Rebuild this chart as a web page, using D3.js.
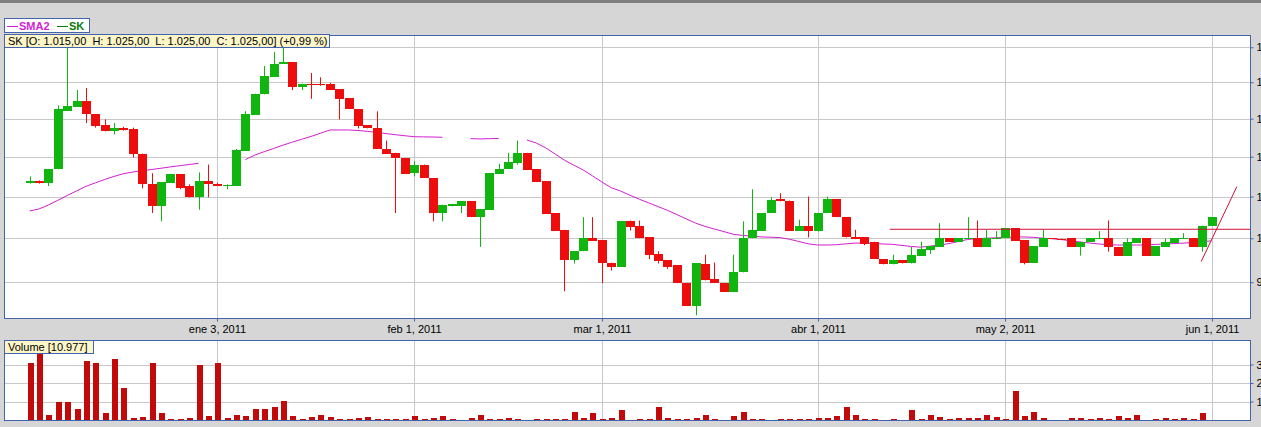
<!DOCTYPE html>
<html><head><meta charset="utf-8">
<script src="https://cdn.jsdelivr.net/npm/d3@7"></script>
<style>
html,body{margin:0;padding:0;background:#d6d6d6;overflow:hidden}
svg{display:block;font-family:"Liberation Sans",Arial,sans-serif}
</style></head><body>
<svg id="c" width="1261" height="427"></svg>
<script>
// ---- data ----
const openP  = [1067,1069,1067,1084,1161,1166,1174,1156,1141,1133,1138,1136,1104,1066,1038,1067,1078,1063,1049,1069,
  1066,1063,1063,1108,1155,1183,1208,1226,1229,1193,1198,1198,1197,1190,1178,1163,1141,1138,1110,1105,
  1098,1079,1090,1073,1030,1039,1039,1044,1025,1034,1078,1084,1092,1105,1084,1069,1030,1010,975,985,
  1000,998,972,967,1020,1014,1001,982,975,969,949,924,970,954,949,939,961,1000,1009,1030,
  1047,1045,1009,1015,1008,1030,1047,1025,1001,1001,996,976,970,975,971,980,986,990,1000,996,
  1000,1000,990,999.8,1000,1012,998,972,990,1000,999.5,1000,990,996,999.8,1000,990,980,995,1000,
  980,990,995,999.6,1000,990,1015];
const highP  = [1075,1070,1084,1168,1253,1189,1192,1156,1149,1144,1139,1138,1104,1079,1068,1078,1078,1065,1080,1090,
  1067,1065,1110,1160,1184,1223,1243,1249,1229,1198,1213,1207,1199,1190,1178,1163,1141,1160,1121,1105,
  1098,1094,1090,1073,1040,1041,1044,1044,1035,1079,1091,1105,1121,1105,1084,1069,1030,1010,985,1025,
  1025,998,972,1020,1021,1021,1001,985,975,969,949,971,981,972,949,981,1020,1059,1030,1049,
  1054,1045,1022,1050,1030,1050,1047,1025,1010,1001,996,976,981,975,990,996,991,1018,1000,1000,
  1025,1021,1010,1008.5,1012,1012,998,991,1010.5,1000,999.5,1000,996,1000,1008.5,1021,990,1000,1000,1000,
  991,1000,1000,1006,1000,1015,1025];
const lowP   = [1066,1066,1063,1084,1161,1166,1144,1138,1133,1129,1134,1099,1060,1030,1020,1067,1059,1049,1034,1049,
  1063,1059,1063,1108,1155,1183,1208,1226,1189,1189,1177,1195,1189,1149,1163,1137,1137,1110,1104,1030,
  1078,1075,1073,1020,1020,1038,1030,1025,990,1034,1078,1084,1090,1083,1068,1029,1009,940,971,985,
  997,949,963,967,1009,1000,976,971,965,949,924,914,952,949,939,939,961,1000,1009,1030,
  1044,1009,1009,1001,1008,1030,1025,1001,999,992,976,970,970,971,971,980,982,990,996,996,
  999.5,990,990,999.8,1000,997,970,972,990,999.6,999,990,980,996,999.8,984.5,980,980,995,980,
  980,990,995,999.6,990,984.5,1015];
const closeP = [1069,1067,1084,1163,1167,1174,1156,1140,1133,1138,1135,1103,1066,1038,1068,1078,1061,1049,1069,1065,
  1063,1064,1109,1156,1184,1209,1226,1229,1193,1198,1197,1196,1189,1177,1163,1140,1137,1110,1104,1098,
  1078,1090,1073,1030,1040,1041,1044,1025,1035,1079,1084,1093,1105,1083,1068,1029,1009,975,985,1000,
  997,972,967,1020,1013,1000,981,974,967,949,924,971,952,949,939,961,1000,1010,1030,1046,
  1044,1009,1015,1008,1030,1047,1025,1001,999.5,993,976,970,975,971,981,988,991,1000,996,1000,
  1000.4,990,1000,1000.4,1012,997,972,991,1000,999.6,999,990,996,1000,1000.4,989.5,980,996,1000,980,
  991,996,1000,1000.4,990,1015,1025];
const sma2 = [1032.4,1034.9,1039.7,1045.4,1051.3,1056.9,1062.6,1066.9,1071.2,1075.0,1078.5,1080.5,1082.1,1083.7,1085.3,1087.0,1088.5,1090.0,1091.6,null,
  null,null,null,1096.3,1102.1,1106.5,1110.6,1114.9,1118.9,1122.6,1126.4,1130.6,1134.9,1134.9,1134.9,1134.2,1133.1,1131.7,1130.1,1128.7,
  1127.3,1126.0,1125.8,1125.6,1125.3,null,null,1123.5,1123.1,1123.4,1123.8,null,null,1121.7,1117.8,1111.5,1103.7,1095.7,1089.2,1083.2,
  1075.7,1068.0,1060.9,1056.8,1051.6,1046.7,1042.2,1037.7,1033.2,1028.1,1022.9,1017.9,1014.0,1010.9,1007.9,1004.7,1003.4,1002.5,1001.6,1001.3,
  1000.8,998.9,996.3,993.6,992.2,992.2,992.5,993.5,994.4,994.5,993.8,993.4,993.0,991.7,990.5,989.7,990.9,992.2,993.8,996.3,
  998.6,999.6,1000.1,1000.6,1001.1,1001.5,1001.6,1001.1,1000.2,999.5,998.5,997.0,995.7,994.5,993.4,992.4,992.2,992.2,992.2,992.2,
  992.8,993.4,993.8,994.4,995.1,996.2,996.9];
const volume = [3065,3605,270,973,973,595,3189,3065,378,3297,1730,108,162,3065,378,54,54,108,2973,216,
  3065,108,270,216,595,595,703,1027,216,54,162,270,162,54,54,108,162,54,54,54,
  54,216,54,108,216,54,0,108,270,54,54,108,54,0,54,54,54,54,432,108,
  378,54,108,540,0,54,54,703,108,54,54,108,270,54,0,216,432,54,54,0,
  54,54,54,54,108,108,216,703,270,54,54,0,54,0,540,54,270,162,54,108,
  108,108,270,162,54,1568,216,432,108,0,0,108,108,54,108,54,216,108,270,0,
  54,108,54,108,54,378,0];
const xTickIdx    = [20, 41, 61, 84, 104, 126];
const xTickLabels = ["ene 3, 2011","feb 1, 2011","mar 1, 2011","abr 1, 2011","may 2, 2011","jun 1, 2011"];
const yTicks      = [950, 1000, 1050, 1100, 1150, 1200, 1250];
const yTickLabels = ["950","1.000","1.050","1.100","1.150","1.200","1.250"];
const volTicks      = [1000, 2000, 3000];
const volTickLabels = ["1.000","2.000","3.000"];
const hLineValue = 1010.6, hLineStart = 91.7;            // drawn horizontal line
const trendLine = [[124.9, 973.2], [128.7, 1062.1]];     // drawn trend line

// ---- drawing ----
const W = 1261, H = 427;
const frame = "#4463ad", grid = "#c8c8c8";
const green = "#10b510", red = "#ee0d0d";
const svg = d3.select("#c");
svg.append("rect").attr("width", W).attr("height", H).attr("fill", "#d6d6d6");
svg.append("rect").attr("width", W).attr("height", 3).attr("fill", "#808080");

const main = {l: 4, r: 1250, t: 35, b: 318};
const vp   = {l: 4, r: 1250, t: 340, b: 420};

const x  = d3.scaleLinear().domain([0, 126]).range([29.7, 1211.5]);
const y  = d3.scaleLog().domain([1000, 1250]).range([238.3, 47.3]);
const yv = d3.scaleLinear().domain([0, 3000]).range([vp.b, 364.5]);

const defs = svg.append("defs");
defs.append("clipPath").attr("id", "cm").append("rect")
  .attr("x", main.l).attr("y", main.t).attr("width", main.r - main.l).attr("height", main.b - main.t);
defs.append("clipPath").attr("id", "cv").append("rect")
  .attr("x", vp.l).attr("y", vp.t).attr("width", vp.r - vp.l).attr("height", vp.b - vp.t);

// panels
[main, vp].forEach(p => svg.append("rect").attr("x", p.l + 0.5).attr("y", p.t + 0.5)
  .attr("width", p.r - p.l).attr("height", p.b - p.t).attr("fill", "#fff"));

// grids
const gm = svg.append("g").attr("clip-path", "url(#cm)");
gm.selectAll(".hg").data(yTicks).join("line")
  .attr("x1", main.l).attr("x2", main.r)
  .attr("y1", d => Math.round(y(d)) + 0.5).attr("y2", d => Math.round(y(d)) + 0.5)
  .attr("stroke", grid);
gm.selectAll(".vg").data(xTickIdx).join("line")
  .attr("x1", d => Math.round(x(d)) + 0.5).attr("x2", d => Math.round(x(d)) + 0.5)
  .attr("y1", main.t).attr("y2", main.b).attr("stroke", grid);
const gv = svg.append("g").attr("clip-path", "url(#cv)");
gv.selectAll(".hg").data(volTicks).join("line")
  .attr("x1", vp.l).attr("x2", vp.r)
  .attr("y1", d => Math.round(yv(d)) + 0.5).attr("y2", d => Math.round(yv(d)) + 0.5)
  .attr("stroke", grid);
gv.selectAll(".vg").data(xTickIdx).join("line")
  .attr("x1", d => Math.round(x(d)) + 0.5).attr("x2", d => Math.round(x(d)) + 0.5)
  .attr("y1", vp.t).attr("y2", vp.b).attr("stroke", grid);

// SMA
const idx = d3.range(openP.length);
gm.append("path").datum(idx)
  .attr("fill", "none").attr("stroke", "#d21ed2").attr("stroke-width", 1)
  .attr("d", d3.line().defined(i => sma2[i] != null).x(i => x(i)).y(i => y(sma2[i])));

// candles
const cg = gm.append("g");
idx.forEach(i => {
  const up = closeP[i] >= openP[i];
  const col = up ? green : red;
  const cx = Math.round(x(i));
  cg.append("line").attr("x1", cx + 0.5).attr("x2", cx + 0.5)
    .attr("y1", y(highP[i])).attr("y2", y(lowP[i])).attr("stroke", col);
  const y0 = y(Math.max(openP[i], closeP[i])), y1 = y(Math.min(openP[i], closeP[i]));
  cg.append("rect").attr("x", cx - 4).attr("width", 9)
    .attr("y", Math.round(y0)).attr("height", Math.max(1, Math.round(y1) - Math.round(y0)))
    .attr("fill", col);
});

// drawn lines
gm.append("line").attr("x1", x(hLineStart)).attr("x2", main.r)
  .attr("y1", y(hLineValue)).attr("y2", y(hLineValue)).attr("stroke", "#d0103a").attr("stroke-width", 1);
gm.append("line").attr("x1", x(trendLine[0][0])).attr("y1", y(trendLine[0][1]))
  .attr("x2", x(trendLine[1][0])).attr("y2", y(trendLine[1][1])).attr("stroke", "#d0103a").attr("stroke-width", 1);

// volume bars
gv.selectAll(".vb").data(idx.filter(i => volume[i] > 0)).join("rect")
  .attr("x", i => Math.round(x(i)) - 2).attr("width", 6)
  .attr("y", i => Math.round(yv(volume[i]))).attr("height", i => vp.b - Math.round(yv(volume[i])))
  .attr("fill", "#c20a0a");

// frames
[main, vp].forEach(p => svg.append("rect").attr("x", p.l + 0.5).attr("y", p.t + 0.5)
  .attr("width", p.r - p.l).attr("height", p.b - p.t).attr("fill", "none").attr("stroke", frame));

// axes
const ay = svg.append("g").attr("transform", `translate(${main.r + 0.5},0)`)
  .call(d3.axisRight(y).tickValues(yTicks).tickFormat((d, i) => yTickLabels[i]).tickSize(3).tickPadding(3));
const avy = svg.append("g").attr("transform", `translate(${vp.r + 0.5},0)`)
  .call(d3.axisRight(yv).tickValues(volTicks).tickFormat((d, i) => volTickLabels[i]).tickSize(3).tickPadding(3));
const ax = svg.append("g").attr("transform", `translate(0.5,${main.b + 0.5})`)
  .call(d3.axisBottom(x).tickValues(xTickIdx).tickFormat((d, i) => xTickLabels[i]).tickSize(3).tickPadding(4));
[ay, avy, ax].forEach(a => {
  a.select(".domain").remove();
  a.selectAll(".tick line").attr("stroke", frame);
  a.selectAll("text").attr("fill", "#000").style("font-size", "11px").style("font-family", '"Liberation Sans", Arial, sans-serif');
});
ax.selectAll(".tick").attr("transform", d => `translate(${Math.round(x(d))},0)`);

// legend
const lg = svg.append("g");
lg.append("rect").attr("x", 4.5).attr("y", 18.5).attr("width", 85).attr("height", 14).attr("fill", "#fff").attr("stroke", frame);
lg.append("line").attr("x1", 7).attr("x2", 18).attr("y1", 26.5).attr("y2", 26.5).attr("stroke", "#d21ed2");
lg.append("text").attr("x", 19).attr("y", 30).text("SMA2").attr("fill", "#d21ed2").style("font-size", "11px").style("font-weight", "bold");
lg.append("line").attr("x1", 57).attr("x2", 68).attr("y1", 26.5).attr("y2", 26.5).attr("stroke", "#0a7a0a");
lg.append("text").attr("x", 69).attr("y", 30).text("SK").attr("fill", "#0a7a0a").style("font-size", "11px").style("font-weight", "bold");

// info label
svg.append("rect").attr("x", 4.5).attr("y", 34.5).attr("width", 325).attr("height", 13).attr("fill", "#fdf6c8").attr("stroke", frame);
svg.append("text").attr("x", 8).attr("y", 45).attr("xml:space", "preserve").style("white-space", "pre")
  .style("font-size", "11px").attr("fill", "#000")
  .text("SK [O: 1.015,00  H: 1.025,00  L: 1.025,00  C: 1.025,00] (+0,99 %)");

// volume label
svg.append("rect").attr("x", 4.5).attr("y", 340.5).attr("width", 89).attr("height", 13).attr("fill", "#fdf6c8").attr("stroke", frame);
svg.append("text").attr("x", 8).attr("y", 351).style("font-size", "11px").attr("fill", "#000").text("Volume [10.977]");
</script>
</body></html>
